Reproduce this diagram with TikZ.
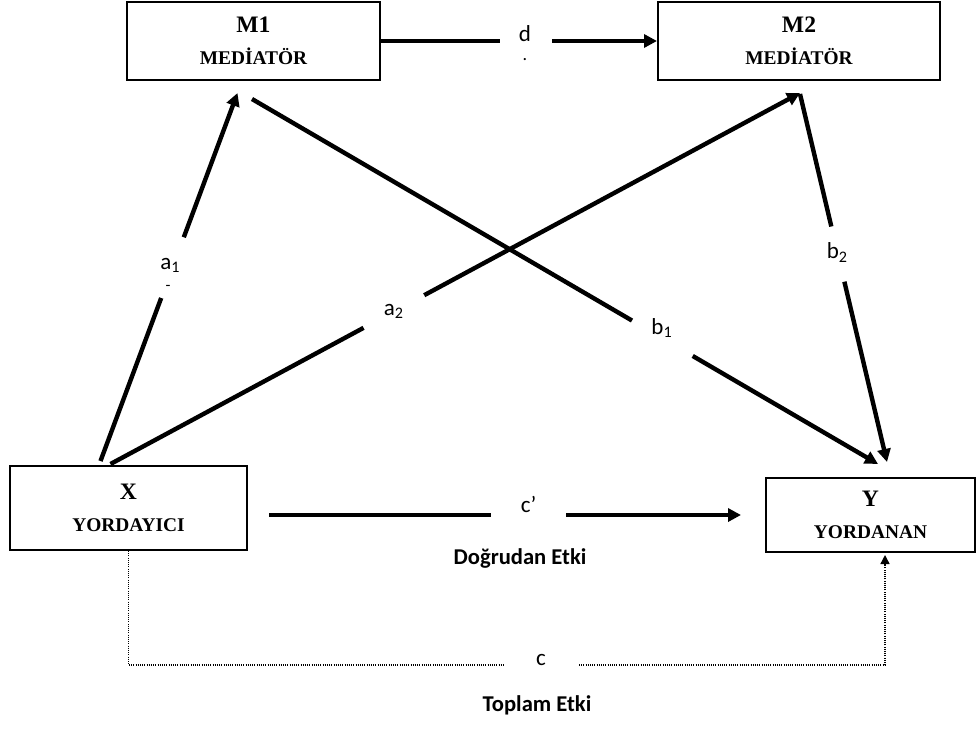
\documentclass[tikz,border=0pt]{standalone}
\usepackage{fontspec}
\setmainfont{Liberation Serif}
\newfontfamily\calibri{Carlito}
\usetikzlibrary{arrows.meta,calc}

\begin{document}
\begin{tikzpicture}[x=0.5pt,y=-0.5pt,
  box/.style={draw,line width=1pt,rectangle,align=center,inner sep=0pt,
    font=\bfseries\fontsize{9.7}{16}\selectfont},
  seg/.style={line width=2.2pt},
  arr/.style={line width=2.2pt,-{Triangle[length=6.5pt,width=6.5pt]}},
  dotline/.style={line width=0.7pt,dash pattern=on 0.5pt off 0.6pt},
  dotarr/.style={dotline,-{Triangle[length=4.5pt,width=4.5pt]}},
  lbl/.style={font=\calibri\fontsize{11.5}{13}\selectfont,inner sep=0pt},
  captext/.style={font=\calibri\bfseries\fontsize{11.3}{13}\selectfont,inner sep=0pt}]

\path[use as bounding box] (0,0) rectangle (978,728);

% variable boxes
\node[box,minimum width=126.5pt,minimum height=39pt] (M1) at (253.5,41)
  {{\fontsize{11.8}{16}\selectfont M1}\\MEDİATÖR};
\node[box,minimum width=141pt,minimum height=39pt] (M2) at (799,41)
  {{\fontsize{11.8}{16}\selectfont M2}\\MEDİATÖR};
\node[box,minimum width=118.5pt,minimum height=42pt] (X) at (128.5,508)
  {{\fontsize{11.8}{16}\selectfont X}\\YORDAYICI};
\node[box,minimum width=104.5pt,minimum height=37pt] (Y) at (870.5,515)
  {{\fontsize{11.8}{16}\selectfont Y}\\YORDANAN};

% arrow end points
\coordinate (a1s) at ($(X.north)+(-28,-4)$);
\coordinate (a1e) at ($(M1.south)+(-16,12)$);
\coordinate (a2s) at ($(X.north)+(-18,-1)$);
\coordinate (a2e) at ($(M2.south)+(1,12)$);
\coordinate (b1s) at ($(M1.south)+(-1.5,18)$);
\coordinate (b1e) at ($(Y.north)+(7.5,-13)$);
\coordinate (b2s) at ($(M2.south)+(1,13)$);
\coordinate (b2e) at ($(Y.north)+(16.5,-15)$);
\coordinate (cps) at ($(X.east)+(21,7)$);
\coordinate (cpe) at ($(Y.west)+(-24,0)$);
\coordinate (cL) at (503,665);
\coordinate (cR) at (579,665);
\coordinate (ce) at ($(Y.south)+(14.5,2)$);

% d : M1 -> M2
\draw[seg] (M1.east) -- ($(M1.east)!0.43!(M2.west)$);
\draw[arr] ($(M1.east)!0.62!(M2.west)$) -- (M2.west);
\node[lbl] (ld) at (525,34) {d};
\node[lbl,font=\calibri\fontsize{9}{10}\selectfont] (ldot) at (525,60) {.};

% a1 : X -> M1
\draw[seg] (a1s) -- ($(a1s)!0.443!(a1e)$);
\draw[arr] ($(a1s)!0.608!(a1e)$) -- (a1e);
\node[lbl] (la1) at ($(a1s)!0.532!(a1e)+(-3,0)$) {a\textsubscript{1}};
\node[lbl,font=\calibri\fontsize{8}{9}\selectfont] (la1m) at (168,288) {-};

% a2 : X -> M2
\draw[seg] (a2s) -- ($(a2s)!0.367!(a2e)$);
\draw[arr] ($(a2s)!0.455!(a2e)$) -- (a2e);
\node[lbl] (la2) at ($(a2s)!0.411!(a2e)$) {a\textsubscript{2}};

% b1 : M1 -> Y
\draw[seg] (b1s) -- ($(b1s)!0.607!(b1e)$);
\draw[arr] ($(b1s)!0.704!(b1e)$) -- (b1e);
\node[lbl] (lb1) at ($(b1s)!0.655!(b1e)+(0,-10)$) {b\textsubscript{1}};

% b2 : M2 -> Y
\draw[seg] (b2s) -- ($(b2s)!0.36!(b2e)$);
\draw[arr] ($(b2s)!0.51!(b2e)$) -- (b2e);
\node[lbl] (lb2) at ($(b2s)!0.43!(b2e)$) {b\textsubscript{2}};

% c' : direct effect
\draw[seg] (cps) -- ($(cps)!0.47!(cpe)$);
\draw[arr] ($(cps)!0.63!(cpe)$) -- (cpe);
\node[lbl] (lcp) at ($(cps)!0.55!(cpe)+(0,-11)$) {c’};
\node[captext] (direct) at (520,558) {Doğrudan Etki};

% c : total effect
\draw[dotline] (X.south) |- (cL);
\draw[dotarr] (cR) -| (ce);
\node[lbl] (lc) at (541,660) {c};
\node[captext] (total) at (537,705) {Toplam Etki};
\end{tikzpicture}
\end{document}
